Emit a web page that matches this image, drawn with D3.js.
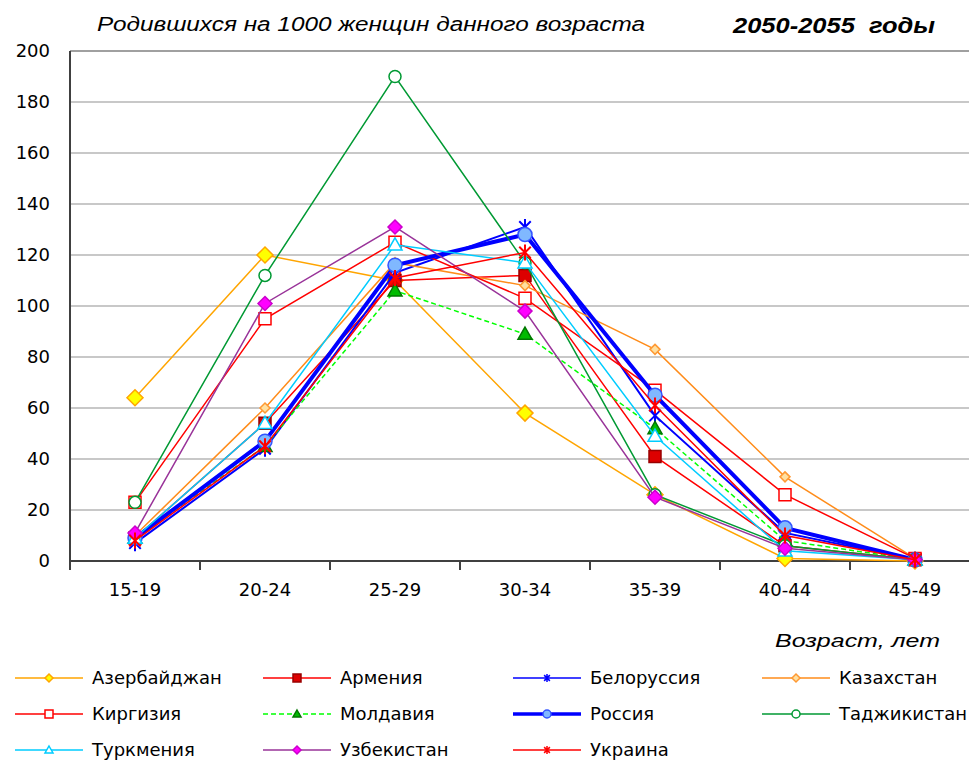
<!DOCTYPE html>
<html>
<head>
<meta charset="UTF-8">
<title>Родившихся на 1000 женщин</title>
<script src="https://d3js.org/d3.v7.min.js"></script>
<style>
  body { margin: 0; background: #fff; }
  svg { display: block; font-family: "Liberation Sans", Arial, sans-serif; }
  .grid line { stroke: #c8c8c8; stroke-width: 2; }
  .tick-label { font-family: "DejaVu Sans", sans-serif; font-size: 18px; fill: #000; }
  .legend text { font-family: "DejaVu Sans", sans-serif; font-size: 18px; fill: #000; }
</style>
</head>
<body>
<script>
// age groups and series values (births per 1000 women)
const ages = ["15-19", "20-24", "25-29", "30-34", "35-39", "40-44", "45-49"];
const yTicks = [0, 20, 40, 60, 80, 100, 120, 140, 160, 180, 200];

const azerbaijan = [64, 120, 110, 58, 26, 1, 0];
const armenia    = [9, 54, 110, 112, 41, 6, 0.5];
const belarus    = [7, 44, 113, 131, 57, 11, 0.5];
const kazakhstan = [10, 60, 117, 108, 83, 33, 1];
const kirgizia   = [23, 95, 125, 103, 67, 26, 1];
const moldova    = [9, 45, 106, 89, 52, 8, 0.5];
const russia     = [9, 47, 116, 128, 65, 13, 0.5];
const tajikistan = [23, 112, 190, 117, 26, 6, 0.5];
const turkmenia  = [9, 54, 124, 117, 49, 4, 0.5];
const uzbekistan = [11, 101, 131, 98, 25, 5, 0.5];
const ukraine    = [8, 45, 111, 121, 61, 10, 0.5];

const names = ["Азербайджан", "Армения", "Белоруссия", "Казахстан",
               "Киргизия", "Молдавия", "Россия", "Таджикистан",
               "Туркмения", "Узбекистан", "Украина"];

// styles per series
const series = [
  { name: names[0],  values: azerbaijan, line: "#ffa500", w: 1.5, marker: "diamond", size: 8,  fill: "#ffff00", stroke: "#ffa500" },
  { name: names[1],  values: armenia,    line: "#ff0000", w: 1.5, marker: "square",  size: 6,  fill: "#dd0000", stroke: "#990000" },
  { name: names[2],  values: belarus,    line: "#0000ff", w: 2,   marker: "star",    size: 8,  fill: "none",    stroke: "#0000ff" },
  { name: names[3],  values: kazakhstan, line: "#ff8c1a", w: 1.5, marker: "diamond", size: 5,  fill: "#ffe0a0", stroke: "#ff9933" },
  { name: names[4],  values: kirgizia,   line: "#ff0000", w: 1.5, marker: "square",  size: 6,  fill: "#ffffff", stroke: "#ff0000" },
  { name: names[5],  values: moldova,    line: "#00ff00", w: 1.5, marker: "triangle",size: 7,  fill: "#00bb00", stroke: "#007700", dash: "5,3" },
  { name: names[6],  values: russia,     line: "#0000ff", w: 4,   marker: "circle",  size: 7,  fill: "#80b8ff", stroke: "#3355ff" },
  { name: names[7],  values: tajikistan, line: "#009933", w: 1.5, marker: "circle",  size: 6,  fill: "#ffffff", stroke: "#009933" },
  { name: names[8],  values: turkmenia,  line: "#00ccff", w: 1.5, marker: "triangle",size: 7,  fill: "#ffffff", stroke: "#00ccff" },
  { name: names[9],  values: uzbekistan, line: "#993399", w: 1.5, marker: "diamond", size: 7,  fill: "#ff00ff", stroke: "#cc00cc" },
  { name: names[10], values: ukraine,    line: "#ff0000", w: 1.5, marker: "star",    size: 8,  fill: "none",    stroke: "#ff0000" }
];

const W = 969, H = 760;
const plotLeft = 70, plotRight = 980, plotTop = 51, plotBottom = 561;

const svg = d3.select("body").append("svg")
  .attr("width", W).attr("height", H);

const x = d3.scaleBand().domain(ages).range([plotLeft, plotRight]);
const y = d3.scaleLinear().domain([0, 200]).range([plotBottom, plotTop]);

// gridlines
svg.append("g").attr("class", "grid")
  .selectAll("line").data(yTicks.filter(d => d > 0 && d < 200)).join("line")
  .attr("x1", plotLeft).attr("x2", plotRight)
  .attr("y1", d => y(d)).attr("y2", d => y(d));

// top border
svg.append("line")
  .attr("x1", plotLeft).attr("x2", plotRight)
  .attr("y1", y(200)).attr("y2", y(200))
  .attr("stroke", "#a0a0a0").attr("stroke-width", 2);

// y labels
svg.append("g").selectAll("text").data(yTicks).join("text")
  .attr("class", "tick-label")
  .attr("x", 50).attr("y", d => y(d)).attr("dy", "0.35em")
  .attr("text-anchor", "end")
  .text(d => d);

// x axis ticks at band boundaries
const bounds = ages.map(a => x(a)).concat([plotRight]);
svg.append("g").selectAll("line").data(bounds).join("line")
  .attr("x1", d => d).attr("x2", d => d)
  .attr("y1", plotBottom).attr("y2", plotBottom + 9)
  .attr("stroke", "#404040").attr("stroke-width", 2);

svg.append("g").selectAll("text").data(ages).join("text")
  .attr("class", "tick-label")
  .attr("x", d => x(d) + x.bandwidth() / 2).attr("y", 590).attr("dy", "0.35em")
  .attr("text-anchor", "middle")
  .text(d => d);

// axes lines
svg.append("line").attr("x1", plotLeft).attr("x2", plotLeft)
  .attr("y1", plotTop).attr("y2", plotBottom)
  .attr("stroke", "#404040").attr("stroke-width", 2);
svg.append("line").attr("x1", plotLeft - 1).attr("x2", plotRight)
  .attr("y1", plotBottom).attr("y2", plotBottom)
  .attr("stroke", "#404040").attr("stroke-width", 2);

// marker path builder
function markerPath(type, s) {
  if (type === "diamond") return `M0,${-s}L${s},0L0,${s}L${-s},0Z`;
  if (type === "square") return `M${-s},${-s}H${s}V${s}H${-s}Z`;
  if (type === "triangle") return `M0,${-s}L${s},${s * 0.75}L${-s},${s * 0.75}Z`;
  if (type === "circle") return d3.arc()({ innerRadius: 0, outerRadius: s, startAngle: 0, endAngle: 2 * Math.PI });
  if (type === "star") {
    const d = s * 0.72;
    return `M0,${-s}V${s}M${-d},${-d}L${d},${d}M${d},${-d}L${-d},${d}`;
  }
  return "";
}

const line = d3.line()
  .x((d, i) => x(ages[i]) + x.bandwidth() / 2)
  .y(d => y(d));

// series lines and markers, drawn in order
series.forEach(s => {
  const g = svg.append("g");
  g.append("path")
    .datum(s.values)
    .attr("d", line)
    .attr("fill", "none")
    .attr("stroke", s.line)
    .attr("stroke-width", s.w)
    .attr("stroke-dasharray", s.dash || null);
  g.selectAll("path.m").data(s.values).join("path")
    .attr("class", "m")
    .attr("transform", (d, i) => `translate(${x(ages[i]) + x.bandwidth() / 2},${y(d)})`)
    .attr("d", markerPath(s.marker, s.size))
    .attr("fill", s.fill)
    .attr("stroke", s.stroke)
    .attr("stroke-width", s.marker === "star" ? 2 : 1.5);
});

// titles
svg.append("text")
  .attr("x", 97).attr("y", 31)
  .attr("font-family", "'Liberation Sans Narrow', 'Arial Narrow', 'Liberation Sans', sans-serif")
  .attr("font-style", "italic").attr("font-size", 20)
  .attr("textLength", 548).attr("lengthAdjust", "spacingAndGlyphs")
  .text("Родившихся на 1000 женщин данного возраста");

svg.append("text")
  .attr("x", 733).attr("y", 33)
  .attr("font-family", "'Liberation Sans Narrow', 'Arial Narrow', 'Liberation Sans', sans-serif")
  .attr("font-style", "italic").attr("font-weight", "bold").attr("font-size", 22)
  .attr("textLength", 202).attr("lengthAdjust", "spacingAndGlyphs")
  .attr("xml:space", "preserve")
  .text("2050-2055  годы");

svg.append("text")
  .attr("x", 775).attr("y", 647)
  .attr("font-style", "italic").attr("font-size", 19)
  .attr("textLength", 165).attr("lengthAdjust", "spacingAndGlyphs")
  .text("Возраст, лет");

// legend: 4 columns, 3 rows
const colX = [15, 263, 513, 762];
const rowY = [678, 714, 750];
const legend = svg.append("g").attr("class", "legend");
series.forEach((s, i) => {
  const cx = colX[i % 4], cy = rowY[Math.floor(i / 4)];
  const g = legend.append("g").attr("transform", `translate(${cx},${cy})`);
  g.append("line")
    .attr("x1", 0).attr("x2", 68)
    .attr("stroke", s.line)
    .attr("stroke-width", s.w === 4 ? 3.5 : 1.5)
    .attr("stroke-dasharray", s.dash || null);
  g.append("path")
    .attr("transform", "translate(34,0)")
    .attr("d", markerPath(s.marker, 4))
    .attr("fill", s.fill)
    .attr("stroke", s.stroke)
    .attr("stroke-width", 1.5);
  g.append("text")
    .attr("x", 77).attr("dy", "0.35em")
    .text(s.name);
});
</script>
</body>
</html>
